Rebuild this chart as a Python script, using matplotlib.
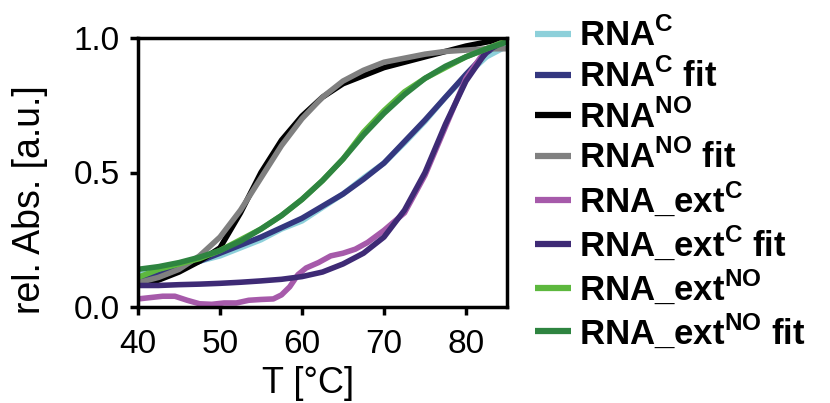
import matplotlib
matplotlib.use("Agg")
import matplotlib.pyplot as plt

plt.rcParams['font.family'] = ['Liberation Sans', 'DejaVu Sans']
plt.rcParams['mathtext.fontset'] = 'custom'
plt.rcParams['mathtext.rm'] = 'Liberation Sans'
plt.rcParams['mathtext.bf'] = 'Liberation Sans:bold'

# melting curves, temperature in degC, normalised absorbance
temp = [40, 42.5, 45, 47.5, 50, 52.5, 55, 57.5, 60, 62.5, 65, 67.5, 70,
        72.5, 75, 77.5, 80, 82.5, 85]

rna_c = [0.12, 0.13, 0.145, 0.17, 0.19, 0.22, 0.25, 0.29, 0.32, 0.37, 0.42,
         0.48, 0.535, 0.61, 0.69, 0.78, 0.86, 0.93, 0.97]
rna_c_fit = [0.10, 0.12, 0.145, 0.17, 0.20, 0.23, 0.26, 0.295, 0.33, 0.375,
             0.42, 0.475, 0.535, 0.615, 0.695, 0.78, 0.865, 0.945, 1.0]
rna_no = [0.08, 0.10, 0.13, 0.17, 0.22, 0.35, 0.50, 0.62, 0.71, 0.78, 0.83,
          0.86, 0.89, 0.91, 0.93, 0.95, 0.97, 0.985, 1.0]
rna_no_fit = [0.09, 0.11, 0.14, 0.19, 0.26, 0.36, 0.48, 0.60, 0.70, 0.78,
              0.84, 0.88, 0.91, 0.925, 0.94, 0.95, 0.955, 0.96, 0.96]

temp_ext = [40, 41.5, 43, 44.5, 46, 47.5, 49, 50.5, 52, 53.5, 55, 56.5, 57.5,
            58.5, 59.5, 60.5, 62, 63.5, 65, 66.5, 68, 70, 72.5, 75, 77.5,
            80, 82.5, 85]
ext_c = [0.03, 0.035, 0.04, 0.04, 0.025, 0.012, 0.01, 0.015, 0.015, 0.025,
         0.028, 0.03, 0.045, 0.075, 0.12, 0.145, 0.165, 0.19, 0.2, 0.215,
         0.24, 0.285, 0.35, 0.49, 0.67, 0.85, 0.96, 0.99]
ext_c_fit = [0.08, 0.08, 0.083, 0.085, 0.088, 0.092, 0.097, 0.103, 0.113,
             0.13, 0.16, 0.20, 0.26, 0.36, 0.50, 0.68, 0.84, 0.95, 0.995]
ext_no = [0.11, 0.14, 0.16, 0.18, 0.21, 0.25, 0.29, 0.34, 0.40, 0.47, 0.55,
          0.65, 0.73, 0.80, 0.85, 0.89, 0.93, 0.96, 0.99]
ext_no_fit = [0.14, 0.15, 0.165, 0.185, 0.21, 0.245, 0.29, 0.34, 0.40, 0.47,
              0.55, 0.64, 0.72, 0.79, 0.85, 0.895, 0.93, 0.96, 0.985]

series = [
    (temp, rna_c, '#8dd0da', r'RNA$^{\mathbf{C}}$'),
    (temp, rna_c_fit, '#34377f', r'RNA$^{\mathbf{C}}$ fit'),
    (temp, rna_no, '#000000', r'RNA$^{\mathbf{NO}}$'),
    (temp, rna_no_fit, '#808080', r'RNA$^{\mathbf{NO}}$ fit'),
    (temp_ext, ext_c, '#a65aaa', r'RNA_ext$^{\mathbf{C}}$'),
    (temp, ext_c_fit, '#3e2a75', r'RNA_ext$^{\mathbf{C}}$ fit'),
    (temp, ext_no, '#5db83e', r'RNA_ext$^{\mathbf{NO}}$'),
    (temp, ext_no_fit, '#2e8440', r'RNA_ext$^{\mathbf{NO}}$ fit'),
]

fig = plt.figure(figsize=(8.3, 4.03), dpi=100)
ax = fig.add_axes([138/830, 1-307/403, (507-138)/830, (307-38)/403])

for x, y, c, lab in series:
    ax.plot(x, y, color=c, lw=4, label=lab, solid_capstyle='butt')

ax.set_xlim(40, 85)
ax.set_ylim(0, 1)
ax.set_xticks([40, 50, 60, 70, 80])
ax.set_yticks([0, 0.5, 1.0])
ax.set_yticklabels(['0.0', '0.5', '1.0'])
for s in ax.spines.values():
    s.set_linewidth(2.5)
ax.tick_params(width=2.5, length=6, labelsize=24)
ax.tick_params(axis='x', pad=10)
ax.tick_params(axis='y', pad=7)

ax.set_xlabel('T [°C]', fontsize=26)
ax.set_ylabel('rel. Abs. [a.u.]', fontsize=27)
ax.xaxis.set_label_coords(0.46, -0.22)
ax.yaxis.set_label_coords(-0.245, 0.40)

leg = ax.legend(loc='upper left', bbox_to_anchor=(535/830, 1-18/403),
                bbox_transform=fig.transFigure, frameon=False,
                prop={'weight': 'bold', 'size': 25}, handlelength=1.04,
                handletextpad=0.24, labelspacing=0.155, borderpad=0,
                borderaxespad=0)
for h in leg.get_lines():
    h.set_linewidth(4.5)

fig.savefig('out.png', dpi=100)
